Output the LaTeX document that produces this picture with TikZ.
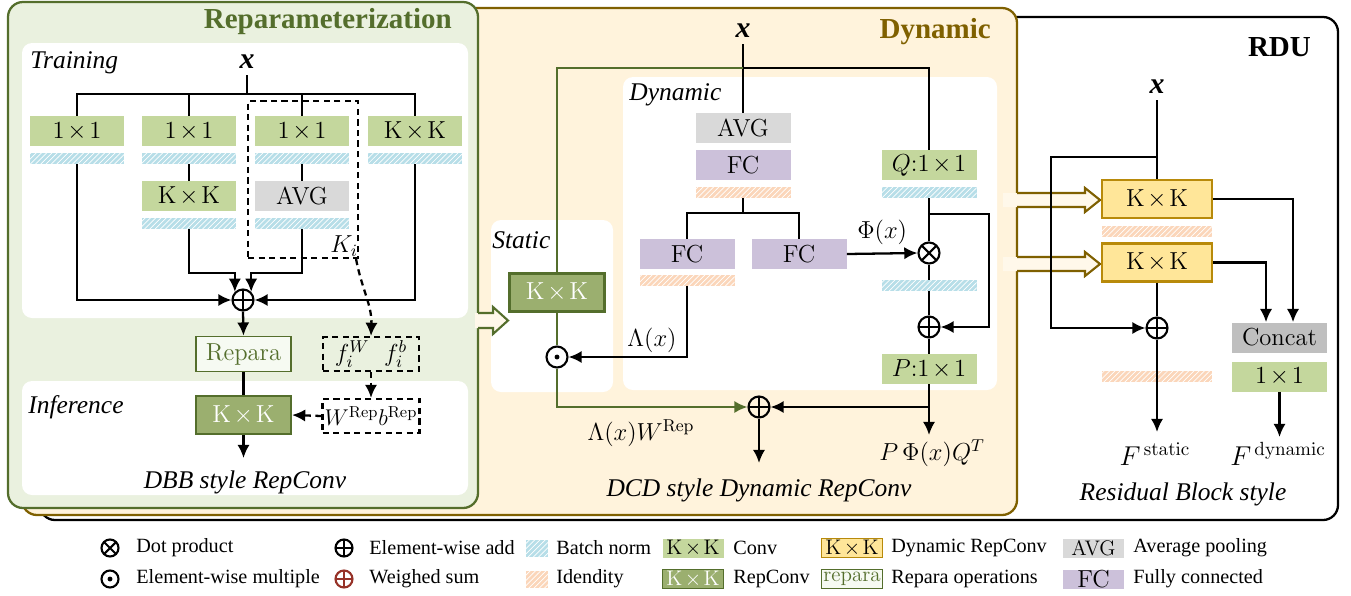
\documentclass[tikz,border=0pt]{standalone}
\usepackage{fix-cm}
\usepackage{amsmath}
\usepackage[no-math]{fontspec}
\setmainfont{Liberation Serif}
\newfontfamily\lmfont{Latin Modern Roman}
\usetikzlibrary{calc, positioning, arrows.meta, patterns}

% colours
\definecolor{convgreen}{RGB}{196,215,157}
\definecolor{repfill}{RGB}{155,175,111}
\definecolor{repline}{RGB}{84,110,44}
\definecolor{reppanel}{RGB}{234,241,223}
\definecolor{reparafill}{RGB}{246,250,242}
\definecolor{dynpanel}{RGB}{255,243,220}
\definecolor{dynline}{RGB}{127,96,0}
\definecolor{dynfill}{RGB}{255,230,153}
\definecolor{dynedge}{RGB}{184,138,10}
\definecolor{avggray}{RGB}{217,217,217}
\definecolor{catgray}{RGB}{191,191,191}
\definecolor{fcpurple}{RGB}{204,193,218}
\definecolor{bnblue}{RGB}{183,222,232}
\definecolor{idpeach}{RGB}{251,214,186}
\definecolor{wsred}{RGB}{150,50,40}
\definecolor{arrowfill}{RGB}{255,248,234}

\newcommand{\boxfont}{\lmfont\fontsize{14}{16}\selectfont}
\newcommand{\legfont}{\fontsize{11.5}{13}\selectfont}
\newcommand{\tms}{$\mkern2mu\times\mkern2mu$}

\tikzset{
  blk/.style={rectangle, minimum width=1.9cm, minimum height=0.6cm, inner sep=0pt, font=\boxfont},
  conv/.style={blk, fill=convgreen},
  repconv/.style={blk, fill=repfill, draw=repline, line width=1.2pt, text=white, minimum height=0.76cm},
  dynconv/.style={blk, fill=dynfill, draw=dynedge, line width=1.2pt, minimum width=2.2cm, minimum height=0.76cm},
  avg/.style={blk, fill=avggray},
  fc/.style={blk, fill=fcpurple},
  concat/.style={blk, fill=catgray},
  repara/.style={blk, fill=reparafill, draw=repline, line width=1pt, text=repline, minimum height=0.7cm},
  dashbox/.style={rectangle, draw, line width=1.2pt, dash pattern=on 3.5pt off 2.5pt, inner sep=0pt},
  bn/.style={rectangle, minimum width=1.9cm, minimum height=0.22cm, inner sep=0pt, fill=bnblue,
    postaction={pattern=north east lines, pattern color=white}},
  idn/.style={bn, fill=idpeach},
  op/.style={circle, draw, line width=1.2pt, minimum size=0.42cm, inner sep=0pt},
  opplus/.style={op, path picture={\draw[line width=1.2pt] (path picture bounding box.north) -- (path picture bounding box.south)
    (path picture bounding box.west) -- (path picture bounding box.east);}},
  optimes/.style={op, path picture={\draw[line width=1.2pt] (path picture bounding box.north west) -- (path picture bounding box.south east)
    (path picture bounding box.north east) -- (path picture bounding box.south west);}},
  opdot/.style={op, path picture={\fill (path picture bounding box.center) circle (1.4pt);}},
  wire/.style={line width=1.3pt},
  arr/.style={wire, -{Latex[length=7.5pt, width=7pt]}},
  dasharr/.style={arr, dash pattern=on 3.5pt off 2.5pt},
  title/.style={font=\fontsize{16.5}{18}\selectfont\bfseries},
  lbl/.style={font=\fontsize{14.5}{16}\selectfont\itshape},
  xin/.style={font=\fontsize{17}{18}\selectfont\bfseries\itshape},
  mlbl/.style={font=\fontsize{14}{16}\selectfont},
  flbl/.style={font=\fontsize{15.5}{17}\selectfont},
  leg/.style={anchor=west, inner sep=0pt, font=\legfont},
  sw/.style={minimum width=1.22cm, minimum height=0.38cm, inner sep=0pt, font=\lmfont\fontsize{12}{13}\selectfont},
}

\begin{document}
\begin{tikzpicture}[x=0.02cm, y=-0.02cm]
\useasboundingbox (0,0) rectangle (1351,595);

% stacked panels
\draw[line width=1.3pt, rounded corners=0.3cm, fill=white] (40,17) rectangle (1338,520);
\draw[draw=dynline, line width=1.3pt, rounded corners=0.3cm, fill=dynpanel] (22,8) rectangle (1017,515);
\draw[draw=repline, line width=1.3pt, rounded corners=0.3cm, fill=reppanel] (8,2) rectangle (478,508);

% white areas
\fill[white, rounded corners=0.2cm] (22,43) rectangle (468,318);
\fill[white, rounded corners=0.2cm] (22,381) rectangle (468,495);
\fill[white, rounded corners=0.2cm] (491,220) rectangle (613,392);
\fill[white, rounded corners=0.2cm] (623,77) rectangle (997,390);

% hollow arrows between panels
\fill[arrowfill] (475,313) -- (493,313) -- (493,307) -- (508,320.5) -- (493,334) -- (493,328) -- (475,328) -- cycle;
\draw[repline, line width=1.2pt] (478,313) -- (493,313) -- (493,307) -- (508,320.5) -- (493,334) -- (493,328) -- (478,328);
\foreach \yy in {200,264} {
  \fill[arrowfill] (1003,\yy-7) -- (1085,\yy-7) -- (1085,\yy-12) -- (1100,\yy) -- (1085,\yy+12) -- (1085,\yy+7) -- (1003,\yy+7) -- cycle;
  \draw[dynline, line width=1.2pt] (1017,\yy-7) -- (1085,\yy-7) -- (1085,\yy-12) -- (1100,\yy) -- (1085,\yy+12) -- (1085,\yy+7) -- (1017,\yy+7);
}

%%% Reparameterization (DBB)
\node[title, text=repline, anchor=east] (reptitle) at (458,22) {Reparameterization};
\node[lbl, anchor=west, inner sep=0pt] (train) at (30,63) {Training};
\node[xin] (xa) at (247,62) {x};
\coordinate (splitA) at (247,94);

\foreach \n/\c/\t in {1/77/1\tms1, 2/189/1\tms1, 3/302/1\tms1, 4/415/K\tms K} {
  \node[conv] (cA\n) at (\c,131) {\t};
  \node[bn] (bnA\n) at (\c,158.5) {};
}
\node[conv] (kkA) at (189,196) {K\tms K};
\node[bn] (bnkA) at (189,223.5) {};
\node[avg] (avgA) at (302,196) {AVG};
\node[bn] (bnvA) at (302,223.5) {};

\node[dashbox, minimum width=2.2cm, minimum height=3.14cm] (kbox) at (303,179.5) {};
\node[mlbl] (ki) at (344,246) {$K_i$};

\node[opplus] (sumA) at (243,300) {};

\draw[wire] (xa.south) -- (splitA);
\draw[wire] (cA1.north) |- (splitA) -| (cA4.north);
\draw[wire] (cA2.north) -- (cA2.north |- splitA);
\draw[wire] (cA3.north) -- (cA3.north |- splitA);
\draw[wire] (bnA2.south) -- (kkA.north);
\draw[wire] (bnA3.south) -- (avgA.north);
\draw[arr] (bnA1.south) |- (sumA.west);
\draw[arr] (bnA4.south) |- (sumA.east);
\draw[arr] (bnkA.south) -- ++(0,44) -| (sumA.135);
\draw[arr] (bnvA.south) -- ++(0,44) -| (sumA.45);

% merge into one kernel
\node[repara] (rep) at (243.5,354) {Repara};
\node[dashbox, minimum width=1.92cm, minimum height=0.68cm] (fw) at (371,354) {\fontsize{14}{16}\selectfont$f_i^W\hspace{0.6em}f_i^b$};
\node[lbl, anchor=west, inner sep=0pt] (infer) at (28,407) {Inference};
\node[repconv] (kinf) at (243.5,415) {K\tms K};
\node[dashbox, minimum width=1.94cm, minimum height=0.68cm] (wrep) at (371,416) {\fontsize{13}{15}\selectfont$W^{\mathrm{Rep}}b^{\mathrm{Rep}}$};
\coordinate (outA) at (243.5,458);
\node[lbl] (dbb) at (245,482) {DBB style RepConv};

\draw[arr] (sumA.south) -- (rep.north);
\draw[wire] (rep.south) -- (kinf.north);
\draw[arr] (kinf.south) -- (outA);
\draw[dasharr] ([xshift=-0.06cm]kbox.south east) .. controls (362,290) and (372,305) .. (fw.north);
\draw[dasharr] (fw.south) -- (wrep.north);
\draw[dasharr] (wrep.west) -- (kinf.east);

%%% Dynamic (DCD)
\node[title, text=dynline, anchor=east] (dyntitle) at (997,32) {Dynamic};
\node[xin] (xb) at (743,31) {x};
\coordinate (topL) at (557,68);
\coordinate (topR) at (929,68);
\node[lbl, anchor=west, inner sep=0pt] (dynlbl) at (629,95) {Dynamic};
\node[avg] (avgB) at (743,128) {AVG};
\node[fc] (fc0) at (743,165) {FC};
\node[idn] (id0) at (743,192.5) {};
\coordinate (splitB) at (743,213);
\node[fc] (fc1) at (687,254) {FC};
\node[idn] (id1) at (687,280.5) {};
\node[fc] (fc2) at (799,254) {FC};
\node[conv] (qconv) at (929,165) {$Q$:1\tms1};
\node[bn] (bnq) at (929,192.5) {};
\coordinate (skipq) at (989,214);
\node[optimes] (mul) at (929,253) {};
\node[bn] (bnm) at (929,285.5) {};
\node[opplus] (addq) at (929,327) {};
\node[conv] (pconv) at (929,369) {$P$:1\tms1};

\node[lbl, anchor=west, inner sep=0pt] (statlbl) at (492,240) {Static};
\node[repconv] (kstat) at (557,292.5) {K\tms K};
\node[opdot] (dotm) at (557,357) {};
\node[mlbl] (lam) at (652,340) {$\Lambda(x)$};
\node[opplus] (wsum) at (759,407) {};
\coordinate (lowL) at (557,407);
\coordinate (pjoin) at (929,407);
\coordinate (pout) at (929,435);
\coordinate (wout) at (759,463);

\draw[wire] (xb.south) -- (avgB.north);
\draw[wire] (xb.south |- topR) -- (topR) -- (qconv.north);
\draw[wire, repline] (xb.south |- topL) -- (topL) -- (kstat.north);
\draw[wire] (id0.south) -- (splitB);
\draw[wire] (fc1.north) |- (splitB) -| (fc2.north);
\draw[arr] (fc2.east) -- node[mlbl, midway, above=1pt] (phi) {$\Phi(x)$} (mul.west);
\draw[wire] (bnq.south) -- (mul.north);
\draw[wire] (mul.south) -- (bnm.north);
\draw[wire] (bnm.south) -- (addq.north);
\draw[arr] (bnq.south |- skipq) -- (skipq) |- (addq.east);
\draw[wire] (addq.south) -- (pconv.north);
\draw[arr] (id1.south) |- (dotm.east);
\draw[wire, repline] (kstat.south) -- (dotm.north);
\draw[arr, color=repline] (dotm.south) -- (lowL) -- (wsum.west);
\draw[arr] (pconv.south) -- (pout);
\draw[arr] (pjoin) -- (wsum.east);
\draw[arr] (wsum.south) -- (wout);

\node[mlbl] (lamw) at (641,433) {$\Lambda(x)W^{\mathrm{Rep}}$};
\node[mlbl] (pq) at (932,453) {$P\,\Phi(x)Q^T$};
\node[lbl] (dcd) at (759,490) {DCD style Dynamic RepConv};

%%% RDU
\node[title, anchor=east] (rdutitle) at (1317,47) {RDU};
\node[xin] (xc) at (1157,87) {x};
\coordinate (rsplit) at (1157,157);
\coordinate (rleft) at (1051,157);
\node[dynconv] (dk1) at (1157,199) {K\tms K};
\node[idn, minimum width=2.2cm] (idk) at (1157,231) {};
\node[dynconv] (dk2) at (1157,262.5) {K\tms K};
\node[opplus] (addr) at (1157,328) {};
\node[idn, minimum width=2.2cm] (idr) at (1157,376.5) {};
\coordinate (fsout) at (1157,432);
\node[concat] (cat) at (1279.5,337.5) {Concat};
\node[conv] (c11) at (1279.5,376.5) {1\tms1};
\coordinate (fdout) at (1279.5,437);

\draw[wire] (xc.south) -- (dk1.north);
\draw[arr] (rsplit) -- (rleft) |- (addr.west);
\draw[wire] (dk2.south) -- (addr.north);
\draw[arr] (addr.south) -- (fsout);
\draw[arr] (dk1.east) -| ([xshift=0.27cm]cat.north);
\draw[arr] (dk2.east) -| ([xshift=-0.27cm]cat.north);
\draw[arr] (c11.south) -- (fdout);

\node[flbl] (fst) at (1155,454) {$F^{\,\mathrm{static}}$};
\node[flbl] (fdy) at (1278,454) {$F^{\,\mathrm{dynamic}}$};
\node[lbl] (res) at (1183,494) {Residual Block style};

%%% legend
\node[optimes, minimum size=0.34cm] (lgmul) at (110,548) {};
\node[leg] (lgmult) at (136,548) {Dot product};
\node[opdot, minimum size=0.34cm] (lgdot) at (110,579) {};
\node[leg] (lgdott) at (136,579) {Element-wise multiple};
\node[opplus, minimum size=0.34cm] (lgadd) at (344,548) {};
\node[leg] (lgaddt) at (369,548) {Element-wise add};
\node[opplus, minimum size=0.34cm, color=wsred] (lgws) at (344,579) {};
\node[leg] (lgwst) at (369,579) {Weighed sum};
\node[bn, minimum width=0.44cm, minimum height=0.34cm] (lgbn) at (537,548) {};
\node[leg] (lgbnt) at (556,548) {Batch norm};
\node[idn, minimum width=0.44cm, minimum height=0.34cm] (lgid) at (537,579) {};
\node[leg] (lgidt) at (556,579) {Idendity};
\node[sw, fill=convgreen] (lgconv) at (693,548) {K\tms K};
\node[leg] (lgconvt) at (733,548) {Conv};
\node[sw, fill=repfill, draw=repline, line width=1.1pt, text=white] (lgrep) at (693,579) {K\tms K};
\node[leg] (lgrept) at (733,579) {RepConv};
\node[sw, fill=dynfill, draw=dynedge, line width=1.1pt] (lgdyn) at (852,548) {K\tms K};
\node[leg] (lgdynt) at (891,548) {Dynamic RepConv};
\node[sw, fill=reparafill, draw=repline, line width=1pt, text=repline] (lgpara) at (852,579) {repara};
\node[leg] (lgparat) at (891,579) {Repara operations};
\node[sw, fill=avggray] (lgavg) at (1093.5,548) {AVG};
\node[leg] (lgavgt) at (1133,548) {Average pooling};
\node[sw, fill=fcpurple, font=\lmfont\fontsize{14}{15}\selectfont] (lgfc) at (1093.5,579) {FC};
\node[leg] (lgfct) at (1133,579) {Fully connected};
\end{tikzpicture}
\end{document}
